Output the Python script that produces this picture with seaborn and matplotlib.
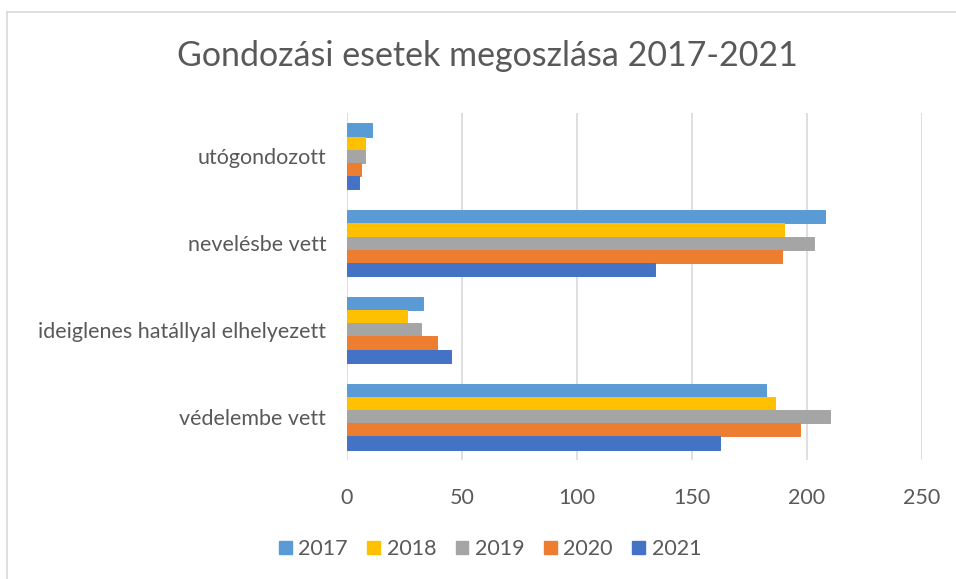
import pandas as pd
import matplotlib.pyplot as plt
import seaborn as sns
from matplotlib.lines import Line2D

categories = ["utógondozott", "nevelésbe vett",
              "ideiglenes hatállyal elhelyezett", "védelembe vett"]
years = ["2017", "2018", "2019", "2020", "2021"]
v2017 = [11, 208, 33, 182]
v2018 = [8, 190, 26, 186]
v2019 = [8, 203, 32, 210]
v2020 = [6, 189, 39, 197]
v2021 = [5, 134, 45, 162]
colors = ["#5B9BD5", "#FFC000", "#A5A5A5", "#ED7D31", "#4472C4"]

rows = []
for year, vals in zip(years, [v2017, v2018, v2019, v2020, v2021]):
    for cat, v in zip(categories, vals):
        rows.append({"kat": cat, "ev": year, "db": v})
df = pd.DataFrame(rows)

sns.set_style("white")
plt.rcParams["font.family"] = ["Lato", "DejaVu Sans"]
text_col = "#595959"

fig = plt.figure(figsize=(9.56, 5.79), dpi=100)
ax = fig.add_axes([347 / 956, 1 - 460 / 579, (922 - 347) / 956, (460 - 113) / 579])

sns.barplot(data=df, y="kat", x="db", hue="ev", order=categories,
            hue_order=years, palette=colors, saturation=1, width=0.76,
            orient="h", ax=ax)
# close the hairline gaps between neighbouring bars
for p in ax.patches:
    p.set_edgecolor(p.get_facecolor())
    p.set_linewidth(0.7)

ax.set_xlim(0, 250)
ax.set_xticks([0, 50, 100, 150, 200, 250])
ax.grid(axis="x", color="#d9d9d9", linewidth=1.2)
ax.set_axisbelow(True)
for s in ax.spines.values():
    s.set_visible(False)
ax.tick_params(axis="both", length=0, labelsize=15.5, labelcolor=text_col)
ax.tick_params(axis="x", pad=20)
ax.tick_params(axis="y", pad=15)
ax.set_xlabel("")
ax.set_ylabel("")

ax.legend_.remove()
handles = [plt.Rectangle((0, 0), 1, 1, color=c) for c in colors]
fig.legend(handles, years, loc="center", bbox_to_anchor=(490 / 956, 1 - 549 / 579),
           ncol=5, frameon=False, fontsize=15.5, labelcolor=text_col,
           handlelength=0.6, handleheight=0.6, handletextpad=0.3, columnspacing=0.9)

fig.text(487 / 956, 1 - 56 / 579, "Gondozási esetek megoszlása 2017-2021",
         ha="center", va="center", fontsize=24.5, color=text_col)

fig.add_artist(Line2D([7 / 956, 7 / 956], [0, 1 - 12 / 579], color="#d9d9d9",
                      linewidth=1.2, transform=fig.transFigure))
fig.add_artist(Line2D([7 / 956, 1], [1 - 12 / 579, 1 - 12 / 579], color="#d9d9d9",
                      linewidth=1.2, transform=fig.transFigure))

fig.savefig("out.png", dpi=100)
